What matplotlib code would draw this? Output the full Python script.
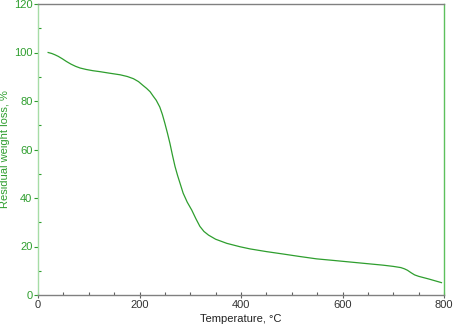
import matplotlib
matplotlib.use('Agg')
import matplotlib.pyplot as plt
from matplotlib.ticker import MultipleLocator

plt.rcParams['font.family'] = ['Liberation Sans', 'DejaVu Sans']

# TGA curve
temp = [20, 27, 33, 40, 48, 56, 65, 74, 83, 95, 108, 122, 140, 162, 176, 188, 198,
        207, 214, 221, 227, 233, 240, 245, 250, 255, 260, 265, 270, 275, 280, 286,
        294, 303, 311, 319, 327, 336, 350, 372, 398, 418, 450, 483, 515, 549, 580,
        615, 650, 680, 700, 715, 722, 728, 735, 742, 750, 770, 795]
weight = [100, 99.6, 99.1, 98.4, 97.4, 96.3, 95.2, 94.3, 93.6, 93.0, 92.5, 92.1, 91.5,
          90.8, 90.1, 89.2, 88.0, 86.4, 85.2, 83.8, 82.0, 80.3, 77.5, 74.5, 70.8, 66.8,
          62.5, 57.6, 53.0, 49.3, 46.0, 42.0, 38.3, 35.0, 31.5, 28.3, 26.2, 24.7, 23.0,
          21.3, 19.9, 19.0, 17.9, 16.9, 15.9, 14.9, 14.3, 13.6, 12.9, 12.3, 11.8, 11.3,
          10.8, 10.2, 9.2, 8.3, 7.7, 6.6, 5.1]

green = '#2e9e2e'
light_green = '#a6dca6'

fig = plt.figure(figsize=(4.53, 3.24), dpi=100)
ax = fig.add_axes([38/453, 29/324, 406/453, 291/324])

ax.plot(temp, weight, color=green, linewidth=0.9)

ax.set_xlim(0, 800)
ax.set_ylim(0, 120)
ax.xaxis.set_major_locator(MultipleLocator(200))
ax.xaxis.set_minor_locator(MultipleLocator(50))
ax.yaxis.set_major_locator(MultipleLocator(20))
ax.yaxis.set_minor_locator(MultipleLocator(10))

ax.spines['left'].set_color(light_green)
ax.spines['right'].set_color('#5cc05c')
ax.spines['top'].set_color('#808080')
ax.spines['bottom'].set_color('#808080')
for s in ax.spines.values():
    s.set_linewidth(1)

ax.tick_params(axis='x', which='major', direction='inout', length=5, width=0.8,
               colors='#606060', labelcolor='#333333', labelsize=8, pad=1)
ax.tick_params(axis='x', which='minor', direction='in', length=2.5, width=0.8,
               colors='#606060')
ax.tick_params(axis='y', which='major', direction='out', length=3, width=0.8,
               colors=green, labelcolor=green, labelsize=8, pad=1)
ax.tick_params(axis='y', which='minor', direction='in', length=2.5, width=0.8,
               colors=green)

ax.set_xlabel('Temperature, °C', fontsize=8, color='#222222', labelpad=3)
ax.set_ylabel('Residual weight loss, %', fontsize=8, color=green)
ax.yaxis.set_label_coords(-0.068, 0.5)

fig.savefig('out.png', dpi=100)
